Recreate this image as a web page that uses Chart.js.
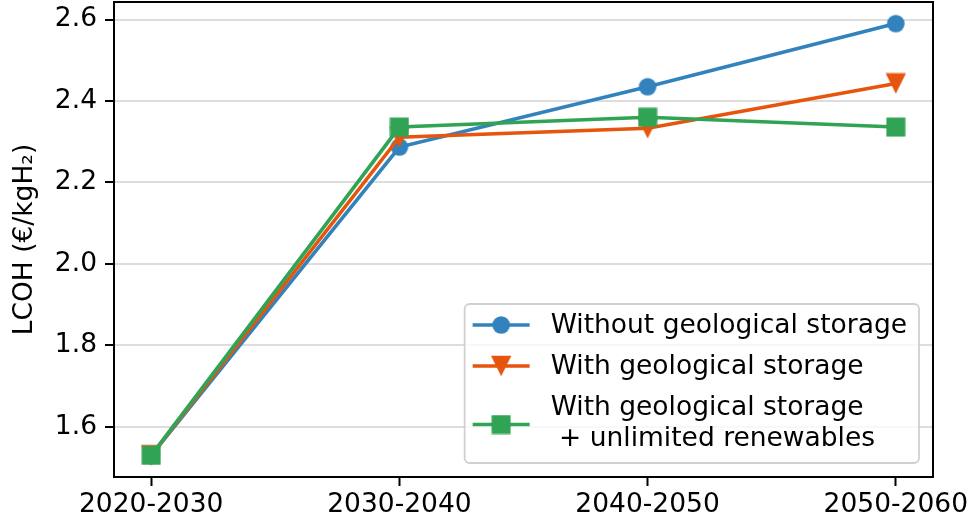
<!DOCTYPE html>
<html>
<head>
<meta charset="utf-8">
<script src="https://cdn.jsdelivr.net/npm/chart.js@4/dist/chart.umd.min.js"></script>
<style>
html,body{margin:0;padding:0;background:#fff;}
#wrap{width:969px;height:525px;position:relative;}
</style>
</head>
<body>
<div id="wrap"><canvas id="c" width="969" height="525"></canvas></div>
<script>
const categories = ["2020-2030", "2030-2040", "2040-2050", "2050-2060"];
const seriesNames = ["Without geological storage", "With geological storage", "With geological storage\n + unlimited renewables"];
const withoutStorage = [1.530, 2.287, 2.435, 2.590];
const withStorage = [1.530, 2.311, 2.333, 2.443];
const withStorageRenewables = [1.530, 2.336, 2.360, 2.336];
const yTicks = [1.6, 1.8, 2.0, 2.2, 2.4, 2.6];
const yTitle = "LCOH (€/kgH₂)";

const COLORS = ["#3182bd", "#e6550d", "#31a354"];
const FONT = "'DejaVu Sans', sans-serif";
const FS = 26.5;

function makeMarker(kind, color) {
  const cv = document.createElement('canvas');
  let s;
  if (kind === 'circle') s = 20; else if (kind === 'tri') s = 22; else s = 20;
  cv.width = s; cv.height = s;
  const g = cv.getContext('2d');
  g.fillStyle = color;
  g.beginPath();
  if (kind === 'circle') {
    g.arc(s/2, s/2, 8.8, 0, Math.PI*2);
  } else if (kind === 'tri') {
    g.moveTo(0.8, 0.8); g.lineTo(s-0.8, 0.8); g.lineTo(s/2, s-0.8); g.closePath();
  } else {
    g.rect(0.5, 0.5, s-1, s-1);
  }
  g.fill();
  return cv;
}
const markers = [makeMarker('circle', COLORS[0]), makeMarker('tri', COLORS[1]), makeMarker('square', COLORS[2])];
const seriesValues = [withoutStorage, withStorage, withStorageRenewables];

const datasets = seriesValues.map((vals, i) => ({
  label: seriesNames[i],
  data: vals.map((v, k) => ({x: k, y: v})),
  borderColor: COLORS[i],
  backgroundColor: COLORS[i],
  borderWidth: 3.6,
  pointStyle: markers[i],
  pointRadius: 9,
  pointHoverRadius: 9,
  tension: 0,
  fill: false,
  order: 2 - i,
  clip: false
}));

const framePlugin = {
  id: 'frame',
  afterDatasetsDraw(chart) {
    const a = chart.chartArea, ctx = chart.ctx;
    ctx.save();
    ctx.strokeStyle = '#000';
    ctx.lineWidth = 2;
    ctx.strokeRect(a.left, a.top, a.right - a.left, a.bottom - a.top);
    ctx.restore();
  }
};

const legendPlugin = {
  id: 'boxLegend',
  afterDraw(chart) {
    const a = chart.chartArea, ctx = chart.ctx;
    ctx.save();
    ctx.font = FS + 'px ' + FONT;
    const lineH = 31, spacing = 10;
    let maxW = 0;
    const rows = seriesNames.map(n => n.split('\n'));
    rows.forEach(lines => lines.forEach(t => { maxW = Math.max(maxW, ctx.measureText(t).width); }));
    const textX = 86;
    const boxW = textX + maxW + 12;
    let h = spacing / 2 + 1;
    rows.forEach(lines => { h += lines.length * lineH + spacing; });
    const boxH = h - spacing/2 + 4;
    const right = a.right - 14, bottom = a.bottom - 14;
    const left = right - boxW, top = bottom - boxH;
    ctx.beginPath();
    if (ctx.roundRect) ctx.roundRect(left, top, boxW, boxH, 5); else ctx.rect(left, top, boxW, boxH);
    ctx.fillStyle = 'rgba(255,255,255,0.8)';
    ctx.fill();
    ctx.strokeStyle = '#d0d0d0';
    ctx.lineWidth = 1.8;
    ctx.stroke();
    let y = top + 5.5;
    ctx.textBaseline = 'middle';
    ctx.textAlign = 'left';
    rows.forEach((lines, i) => {
      const rowH = lines.length * lineH;
      const cy = y + rowH / 2;
      ctx.strokeStyle = COLORS[i];
      ctx.lineWidth = 3.6;
      ctx.beginPath();
      ctx.moveTo(left + 8, cy + (lines.length > 1 ? 2 : 0));
      ctx.lineTo(left + 65, cy + (lines.length > 1 ? 2 : 0));
      ctx.stroke();
      const m = markers[i];
      ctx.drawImage(m, left + 36.5 - m.width/2, cy + (lines.length > 1 ? 2 : 0) - m.height/2);
      ctx.fillStyle = '#000';
      lines.forEach((t, k) => {
        ctx.fillText(t, left + textX, y + lineH * k + lineH / 2 + 1);
      });
      y += rowH + spacing;
    });
    ctx.restore();
  }
};

const noPad = () => ({ left: 0, top: 0, right: 0, bottom: 0 });

new Chart(document.getElementById('c'), {
  type: 'line',
  data: { datasets },
  options: {
    responsive: false,
    animation: false,
    events: [],
    layout: { autoPadding: false, padding: { top: 2, right: 36, bottom: 0, left: 0 } },
    plugins: { legend: { display: false }, tooltip: { enabled: false } },
    scales: {
      x: {
        type: 'linear',
        min: -0.15, max: 3.15,
        afterBuildTicks: s => { s.ticks = categories.map((c, i) => ({ value: i })); },
        afterFit: s => { s.height = 48; s.paddingLeft = 0; s.paddingRight = 0; s.paddingTop = 0; s.paddingBottom = 0; s.getPadding = noPad; },
        ticks: {
          callback: (v) => categories[v],
          font: { family: FONT, size: FS },
          color: '#000',
          padding: 3,
          maxRotation: 0,
          autoSkip: false
        },
        grid: { display: true, drawOnChartArea: false, drawTicks: true, tickLength: 9, tickColor: '#000', tickWidth: 2 },
        border: { display: false }
      },
      y: {
        type: 'linear',
        min: 1.477, max: 2.643,
        afterBuildTicks: s => { s.ticks = yTicks.map(v => ({ value: v })); },
        afterFit: s => { s.width = 114; s.paddingLeft = 0; s.paddingRight = 0; s.paddingTop = 0; s.paddingBottom = 0; s.getPadding = noPad; },
        ticks: {
          callback: (v) => v.toFixed(1),
          font: { family: FONT, size: FS },
          color: '#000',
          padding: 8
        },
        grid: { color: '#dddddd', lineWidth: 2, tickLength: 9, tickColor: '#000', tickWidth: 2 },
        border: { display: false },
        title: {
          display: true,
          text: yTitle,
          font: { family: FONT, size: FS },
          color: '#000',
          padding: { top: 9, bottom: 0 }
        }
      }
    }
  },
  plugins: [framePlugin, legendPlugin]
});
</script>
</body>
</html>
